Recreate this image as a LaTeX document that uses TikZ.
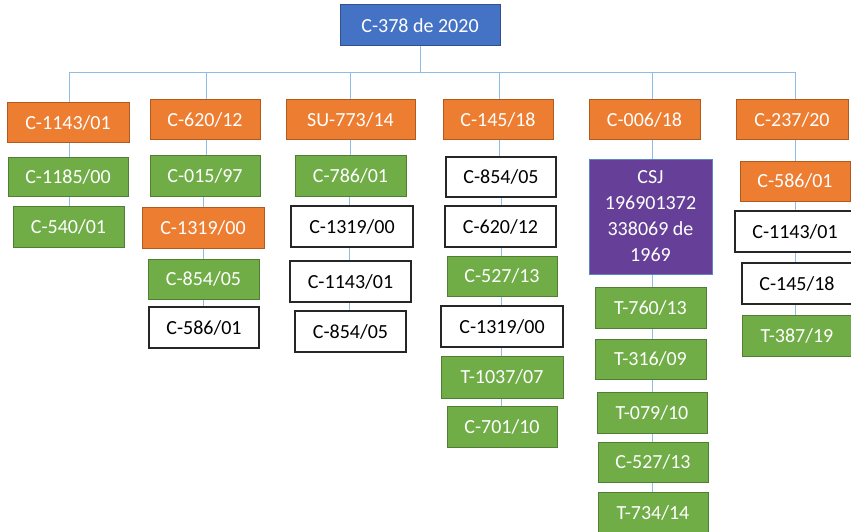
\documentclass[tikz,border=0pt]{standalone}
\usepackage{fontspec}
\setmainfont{Carlito}
\definecolor{rootblue}{HTML}{4472C4}
\definecolor{rootedge}{HTML}{2F528F}
\definecolor{orangefill}{HTML}{ED7D31}
\definecolor{orangeedge}{HTML}{AE5A21}
\definecolor{greenfill}{HTML}{70AD47}
\definecolor{greenedge}{HTML}{507E32}
\definecolor{purplefill}{HTML}{664098}
\definecolor{purpleedge}{HTML}{5B86C4}
\definecolor{linkblue}{HTML}{8FBCE6}
\pgfdeclarelayer{links}
\pgfsetlayers{links,main}
\tikzset{
  x=1pt, y=-1pt,
  box/.style={rectangle, inner sep=0pt, font=\fontsize{20}{26}\selectfont, align=center},
  rootbox/.style={box, fill=rootblue, draw=rootedge, line width=1pt, text=white},
  orangebox/.style={box, fill=orangefill, draw=orangeedge, line width=1pt, text=white},
  greenbox/.style={box, fill=greenfill, draw=greenedge, line width=1pt, text=white},
  purplebox/.style={box, fill=purplefill, draw=purpleedge, line width=1pt, text=white},
  whitebox/.style={box, fill=white, draw=black!85, line width=1.6pt, text=black},
  link/.style={draw=linkblue, line width=1pt},
}
% \bx{style}{name}{centre}{width}{height}{text}
\newcommand{\bx}[6]{\node[#1, minimum width=#4pt, minimum height=#5pt] (#2) at (#3) {#6};}
% vertical link at the x of coordinate #1 from the bottom of #2 to the top of #3
\newcommand{\vlink}[3]{\draw[link] (#2.south -| #1) -- (#3.north -| #1);}
\begin{document}
\begin{tikzpicture}
\useasboundingbox (0,0) rectangle (851,532);
\clip (0,0) rectangle (851,532);

% root
\bx{rootbox}{root}{420,25.5}{160}{41}{C-378 de 2020}

% column 1
\bx{orangebox}{a1}{68,123}{122}{40}{C-1143/01}
\bx{greenbox}{a2}{68,176.5}{120}{39}{C-1185/00}
\bx{greenbox}{a3}{68.5,226.5}{111}{41}{C-540/01}

% column 2
\bx{orangebox}{b1}{205,120}{110}{40}{C-620/12}
\bx{greenbox}{b2}{205,175.5}{110}{41}{C-015/97}
\bx{orangebox}{b3}{203,227.5}{122}{41}{C-1319/00}
\bx{greenbox}{b4}{203.5,279}{111}{40}{C-854/05}
\bx{whitebox}{b5}{204,327.5}{110}{41}{C-586/01}

% column 3
\bx{orangebox}{c1}{350.5,120}{129}{40}{SU-773/14}
\bx{greenbox}{c2}{350.5,175.5}{111}{41}{C-786/01}
\bx{whitebox}{c3}{352,226.5}{122}{41}{C-1319/00}
\bx{whitebox}{c4}{350.5,281.5}{121}{41}{C-1143/01}
\bx{whitebox}{c5}{350.5,331.5}{111}{41}{C-854/05}

% column 4
\bx{orangebox}{d1}{498,120}{110}{40}{C-145/18}
\bx{whitebox}{d2}{501,177}{110}{40}{C-854/05}
\bx{whitebox}{d3}{500.5,226.5}{111}{41}{C-620/12}
\bx{greenbox}{d4}{502,276}{110}{40}{C-527/13}
\bx{whitebox}{d5}{502,326.5}{122}{41}{C-1319/00}
\bx{greenbox}{d6}{502,377}{122}{42}{T-1037/07}
\bx{greenbox}{d7}{502,426.5}{110}{41}{C-701/10}

% column 5
\bx{orangebox}{e1}{644.5,120}{111}{40}{C-006/18}
\bx{purplebox}{e2}{650.5,216.5}{123}{115}{CSJ\\196901372\\338069 de\\1969}
\bx{greenbox}{e3}{650.5,307.5}{111}{41}{T-760/13}
\bx{greenbox}{e4}{650.5,359}{111}{40}{T-316/09}
\bx{greenbox}{e5}{652,412.5}{110}{41}{T-079/10}
\bx{greenbox}{e6}{653,462}{110}{40}{C-527/13}
\bx{greenbox}{e7}{653,512.5}{110}{41}{T-734/14}

% column 6
\bx{orangebox}{f1}{792,120}{112}{40}{C-237/20}
\bx{orangebox}{f2}{795,181}{110}{40}{C-586/01}
\bx{whitebox}{f3}{795,231.5}{120}{41}{C-1143/01}
\bx{whitebox}{f4}{797,283.5}{110}{41}{C-145/18}
\bx{greenbox}{f5}{797,335.5}{110}{41}{T-387/19}

% x positions of the branch lines
\coordinate (xa) at (69,72.5);
\coordinate (xb) at (206,72.5);
\coordinate (xbb) at (203,0);
\coordinate (xc) at (350,72.5);
\coordinate (xcc) at (349,0);
\coordinate (xd) at (499,72.5);
\coordinate (xdd) at (501,0);
\coordinate (xe) at (652,72.5);
\coordinate (xf) at (795,72.5);

\begin{pgfonlayer}{links}
% bus from the root to the six branches
\draw[link] (root.south) -- (root.south |- xa);
\draw[link] (xa) -- (xf);
\draw[link] (xa) -- (a1.north -| xa);
\draw[link] (xb) -- (b1.north -| xb);
\draw[link] (xc) -- (c1.north -| xc);
\draw[link] (xd) -- (d1.north -| xd);
\draw[link] (xe) -- (e1.north -| xe);
\draw[link] (xf) -- (f1.north -| xf);

% chains inside each column
\vlink{xa}{a1}{a2}
\vlink{xa}{a2}{a3}

\vlink{xb}{b1}{b2}
\vlink{xbb}{b2}{b3}
\vlink{xbb}{b3}{b4}
\vlink{xbb}{b4}{b5}

\vlink{xc}{c1}{c2}
\vlink{xcc}{c2}{c3}
\vlink{xcc}{c3}{c4}
\vlink{xcc}{c4}{c5}

\vlink{xd}{d1}{d2}
\vlink{xdd}{d2}{d3}
\vlink{xdd}{d3}{d4}
\vlink{xdd}{d4}{d5}
\vlink{xdd}{d5}{d6}
\vlink{xdd}{d6}{d7}

\vlink{xe}{e1}{e2}
\vlink{xe}{e2}{e3}
\vlink{xe}{e3}{e4}
\vlink{xe}{e4}{e5}
\vlink{xe}{e5}{e6}
\vlink{xe}{e6}{e7}

\vlink{xf}{f1}{f2}
\vlink{xf}{f2}{f3}
\vlink{xf}{f3}{f4}
\vlink{xf}{f4}{f5}
\end{pgfonlayer}
\end{tikzpicture}
\end{document}
